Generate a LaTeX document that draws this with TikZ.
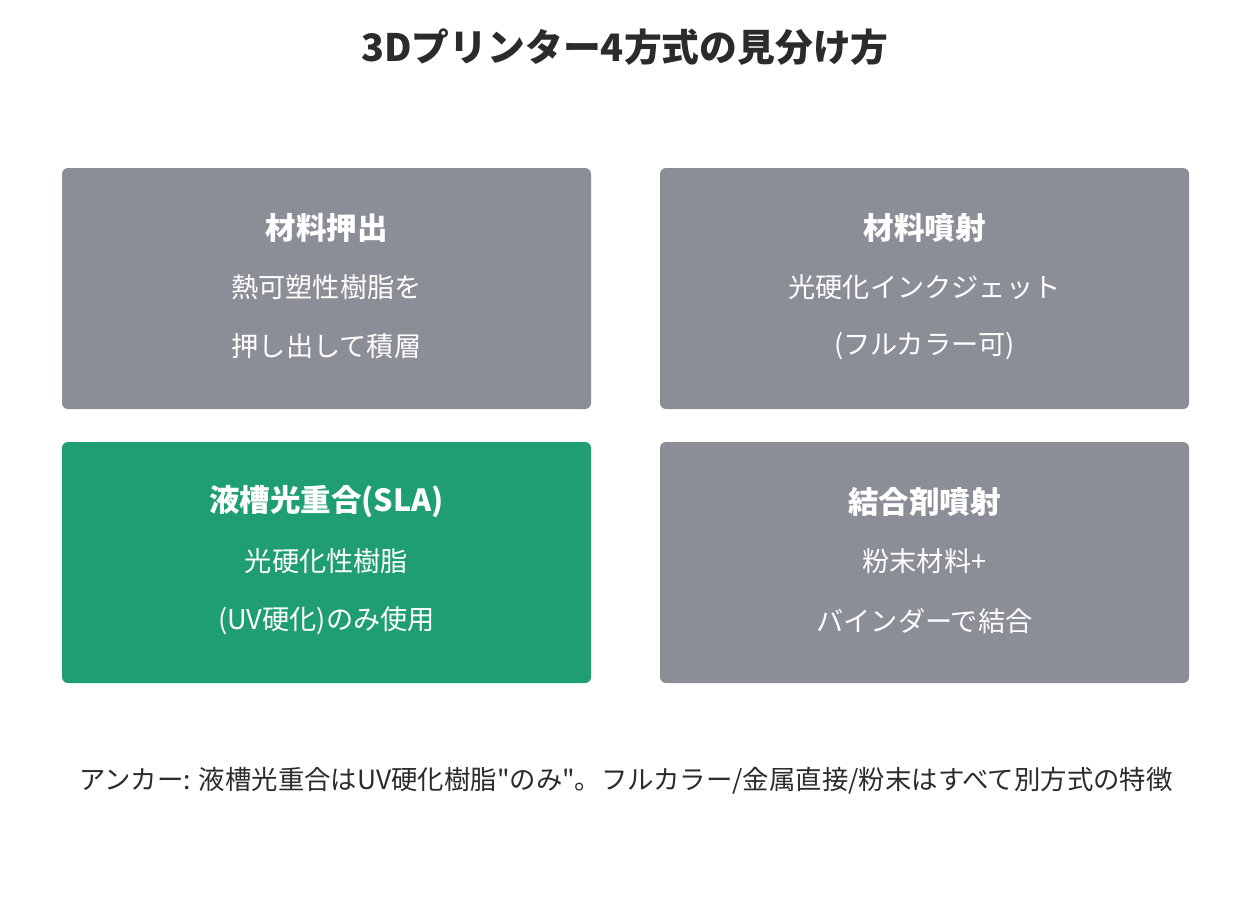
\documentclass[tikz,border=0pt]{standalone}
\usepackage{fontspec}
\setmainfont{Noto Sans CJK JP}[Ligatures=TeXOff]
\definecolor{boxgray}{HTML}{8B8E97}
\definecolor{boxgreen}{HTML}{1F9E74}
\definecolor{darktext}{HTML}{2B2B2B}
\begin{document}
\begin{tikzpicture}[x=1pt,y=-1pt,
  card/.style={rounded corners=6pt, draw=none},
  ttl/.style={text=white, font=\fontsize{30.5}{34}\selectfont\bfseries, anchor=center, inner sep=0},
  body/.style={text=white, font=\fontsize{27.2}{31}\selectfont, anchor=center, inner sep=0}]
\useasboundingbox[fill=white] (0,0) rectangle (1250,907);
\node[text=darktext, font=\fontsize{37.8}{42}\selectfont\bfseries, inner sep=0] (title) at (625,47) {3Dプリンター4方式の見分け方};
% cards
\fill[card, boxgray] (62,168) rectangle (591,409);
\fill[card, boxgray] (660,168) rectangle (1189,409);
\fill[card, boxgreen] (62,442) rectangle (591,683);
\fill[card, boxgray] (660,442) rectangle (1189,683);
% card 1
\node[ttl] (a1) at (326.5,228) {材料押出};
\node[body] (a2) at (326.5,287) {熱可塑性樹脂を};
\node[body] (a3) at (326.5,346) {押し出して積層};
% card 2
\node[ttl] (b1) at (924.5,228) {材料噴射};
\node[body] (b2) at (924.5,287) {光硬化インクジェット};
\node[body] (b3) at (924.5,346) {(フルカラー可)};
% card 3
\node[ttl] (c1) at (326.5,502) {液槽光重合(SLA)};
\node[body] (c2) at (326.5,561) {光硬化性樹脂};
\node[body] (c3) at (326.5,621) {(UV硬化)のみ使用};
% card 4
\node[ttl] (d1) at (924.5,502) {結合剤噴射};
\node[body] (d2) at (924.5,561) {粉末材料+};
\node[body] (d3) at (924.5,621) {バインダーで結合};
% footer
\node[text=darktext, font=\fontsize{26.4}{30}\selectfont, inner sep=0] (foot) at (626,781) {アンカー: 液槽光重合はUV硬化樹脂"のみ"。フルカラー/金属直接/粉末はすべて別方式の特徴};
\end{tikzpicture}
\end{document}
